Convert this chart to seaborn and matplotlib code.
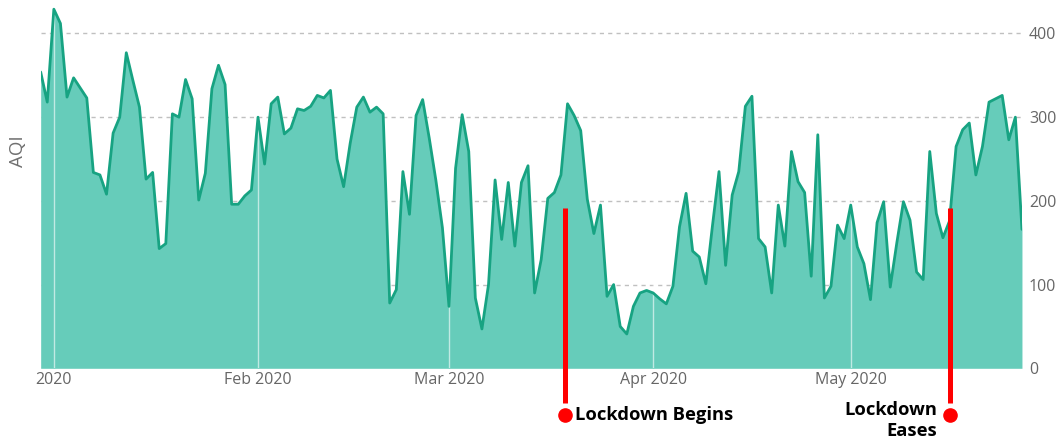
import seaborn as sns
import pandas as pd
import matplotlib.pyplot as plt
import matplotlib.dates as mdates

# daily AQI, 30 Dec 2019 .. 27 May 2020
start_date = "2019-12-30"
aqi = [354, 318, 429, 412, 324, 347, 335, 323, 234, 231,
       208, 281, 300, 377, 344, 312, 226, 234, 143, 149,
       304, 300, 345, 322, 201, 233, 334, 362, 339, 196,
       196, 206, 213, 300, 244, 316, 324, 280, 287, 310,
       308, 313, 326, 323, 332, 250, 217, 269, 312, 324,
       306, 312, 304, 78, 94, 235, 184, 302, 321, 275,
       225, 168, 74, 239, 303, 259, 84, 47, 100, 225,
       154, 222, 146, 222, 242, 90, 130, 203, 210, 231,
       316, 302, 284, 202, 161, 195, 86, 100, 50, 41,
       74, 90, 93, 90, 83, 77, 98, 169, 209, 140,
       133, 101, 170, 235, 123, 207, 235, 313, 325, 155,
       145, 90, 195, 146, 259, 223, 210, 110, 279, 84,
       98, 171, 155, 195, 145, 125, 82, 174, 199, 97,
       150, 199, 177, 115, 106, 259, 185, 156, 176, 265,
       285, 293, 231, 265, 318, 322, 326, 273, 300, 166]

month_ticks = ["2020-01-01", "2020-02-01", "2020-03-01", "2020-04-01", "2020-05-01"]
month_labels = ["2020", "Feb 2020", "Mar 2020", "Apr 2020", "May 2020"]
y_ticks = [0, 100, 200, 300, 400]

events = ["Lockdown Begins", "Lockdown\nEases"]
event_dates = ["2020-03-18 14:00", "2020-05-16"]
event_top = [192, 192]

fill_col = "#66ccba"
line_col = "#17a382"
red = "#ff0000"

df = pd.DataFrame({"date": pd.date_range(start_date, periods=len(aqi), freq="D"),
                   "aqi": aqi})

sns.set_style("white")
plt.rcParams['font.family'] = ['Open Sans', 'DejaVu Sans']

fig = plt.figure(figsize=(10.62, 4.44), dpi=100)
ax = fig.add_axes([0.0383, 0.1705, 0.9240, 0.8295])

ax.fill_between(df["date"], 0, df["aqi"], color=fill_col, lw=0, zorder=1)
for m in month_ticks:
    ax.axvline(pd.Timestamp(m), color="white", alpha=0.6, lw=1, zorder=2)
sns.lineplot(x="date", y="aqi", data=df, color=line_col, lw=2, ax=ax, zorder=3)

ax.set_xlim(df["date"].iloc[0], df["date"].iloc[-1])
ax.set_ylim(0, 440)
for v in y_ticks:
    ax.axhline(v, color="#c0c0c0", lw=1, ls=(0, (3, 3)), zorder=0.5)

ax.yaxis.tick_right()
ax.set_yticks(y_ticks)
ax.set_xticks([pd.Timestamp(m) for m in month_ticks])
ax.set_xticklabels(month_labels)
ax.tick_params(axis="both", length=0, labelsize=11.5, labelcolor="#666666")
ax.tick_params(axis="x", pad=3)
ax.tick_params(axis="y", pad=5)
ax.set_xlabel("")
ax.set_ylabel("")
for s in ax.spines.values():
    s.set_visible(False)

fig.text(0.017, 0.66, "AQI", rotation=90, ha="center", va="center",
         fontsize=13.5, color="#707070")

# lockdown markers below the axis
for i, (lab, d, top) in enumerate(zip(events, event_dates, event_top)):
    x = pd.Timestamp(d)
    ax.plot([x, x], [top, -42], color=red, lw=3.6, solid_capstyle="butt",
            clip_on=False, zorder=5)
    ax.plot([x], [-56], "o", color=red, ms=9.5, clip_on=False, zorder=5)
    if i == 0:
        ax.annotate(lab, xy=(x, -56), xytext=(7, 0), textcoords="offset points",
                    ha="left", va="center", fontsize=13.2, fontweight="bold",
                    color="black", annotation_clip=False)
    else:
        ax.annotate(lab, xy=(x, -56), xytext=(-9, -4), textcoords="offset points",
                    ha="right", va="center", multialignment="right",
                    linespacing=1.25, fontsize=13.2, fontweight="bold",
                    color="black", annotation_clip=False)

fig.savefig("out.png", dpi=100)
